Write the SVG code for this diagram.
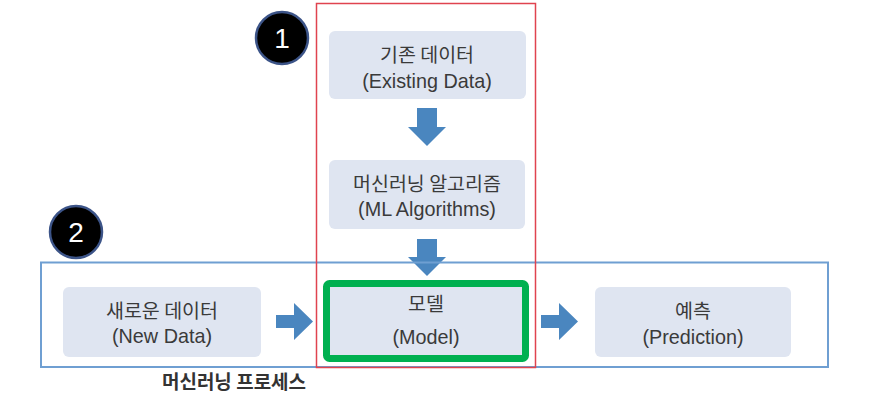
<svg xmlns="http://www.w3.org/2000/svg" width="881" height="406" viewBox="0 0 881 406">
<style>
.box{fill:#dfe5f1;}
.t{font-family:"Liberation Sans","Noto Sans CJK KR",sans-serif;font-size:19.8px;fill:#3a3a3a;text-anchor:middle;}
.k{font-family:"Noto Sans CJK KR","Liberation Sans",sans-serif;font-size:19.5px;fill:#3a3a3a;text-anchor:middle;}
.arr{fill:#4a86bf;}
.num{font-family:"Liberation Sans",sans-serif;font-size:28px;fill:#ffffff;text-anchor:middle;}
.badge{fill:#000000;stroke:#3c5488;stroke-width:2.5;}
</style>
<rect width="881" height="406" fill="#ffffff"/>
<g id="connectors">
<polygon class="arr" points="417,108 437,108 437,127 446,127 427,146 408,127 417,127"/>
<polygon class="arr" points="417,239 437,239 437,257 446,257 427,276 408,257 417,257"/>
<polygon class="arr" points="276,315 294,315 294,303 313,321.5 294,340 294,328 276,328"/>
<polygon class="arr" points="541,315 559,315 559,303 578,321.5 559,340 559,328 541,328"/>
</g>
<g id="ml-process-frame">
<rect x="41" y="262.5" width="787" height="104.5" fill="none" stroke="#6f9fd2" stroke-width="2"/>
</g>
<g id="training-frame">
<rect x="316.5" y="3.5" width="219" height="364" fill="none" stroke="#e0434f" stroke-width="1.5"/>
</g>
<g id="existing-data">
<rect class="box" x="329" y="31" width="197" height="68" rx="6"/>
<text class="k" x="427" y="62">기존 데이터</text>
<text class="t" x="427" y="88">(Existing Data)</text>
</g>
<g id="ml-algorithms">
<rect class="box" x="329" y="160" width="196" height="69" rx="6"/>
<text class="k" x="427" y="191">머신러닝 알고리즘</text>
<text class="t" x="427" y="216">(ML Algorithms)</text>
</g>
<g id="model">
<rect class="box" x="326.5" y="283.5" width="199" height="75" rx="3" stroke="#00b050" stroke-width="7"/>
<text class="k" x="426" y="311">모델</text>
<text class="t" x="426" y="344">(Model)</text>
</g>
<g id="new-data">
<rect class="box" x="63" y="287" width="198" height="70" rx="6"/>
<text class="k" x="162" y="318">새로운 데이터</text>
<text class="t" x="162" y="343">(New Data)</text>
</g>
<g id="prediction">
<rect class="box" x="595" y="287" width="196" height="70" rx="6"/>
<text class="k" x="693" y="318">예측</text>
<text class="t" x="693" y="344">(Prediction)</text>
</g>
<g id="badge-1">
<circle class="badge" cx="282" cy="38" r="26"/>
<text class="num" x="282" y="48">1</text>
</g>
<g id="badge-2">
<circle class="badge" cx="76" cy="232" r="26"/>
<text class="num" x="76" y="242">2</text>
</g>
<g id="caption">
<text x="234" y="389" font-family="Noto Sans CJK KR, sans-serif" font-size="19" font-weight="bold" fill="#333333" text-anchor="middle">머신러닝 프로세스</text>
</g>
</svg>
